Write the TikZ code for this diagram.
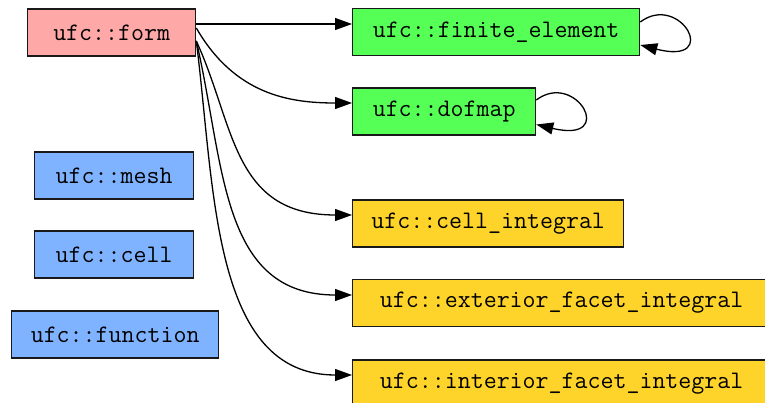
\documentclass[tikz,border=0pt]{standalone}
\usetikzlibrary{arrows.meta}
\definecolor{formpink}{HTML}{FFA8A8}
\definecolor{elemgreen}{HTML}{55FF55}
\definecolor{intyellow}{HTML}{FFD42A}
\definecolor{meshblue}{HTML}{80B3FF}
\begin{document}
\begin{tikzpicture}[x=1pt,y=-1pt,
  box/.style={draw=black!90, line width=1.3pt, minimum height=47pt, inner sep=0pt, anchor=west,
    font=\ttfamily\fontsize{25.2}{28}\selectfont},
  edge/.style={line width=1.3pt, -{Triangle[length=17pt,width=12pt]}}]
\useasboundingbox (0,0) rectangle (765,403);
\node[box, fill=formpink, minimum width=168pt] (form) at (27,32.5) {ufc::form};
\node[box, fill=elemgreen, minimum width=287pt] (fe) at (352,32) {ufc::finite\_element};
\node[box, fill=elemgreen, minimum width=183pt] (dof) at (352,111.5) {ufc::dofmap};
\node[box, fill=intyellow, minimum width=271pt] (ci) at (352,223.5) {ufc::cell\_integral};
\node[box, fill=intyellow, minimum width=418pt] (efi) at (352,303) {ufc::exterior\_facet\_integral};
\node[box, fill=intyellow, minimum width=418pt] (ifi) at (352,383.5) {ufc::interior\_facet\_integral};
\node[box, fill=meshblue, minimum width=159pt] (mesh) at (34,175.5) {ufc::mesh};
\node[box, fill=meshblue, minimum width=159pt] (cell) at (34,254.5) {ufc::cell};
\node[box, fill=meshblue, minimum width=207pt] (func) at (11,334.5) {ufc::function};

\draw[edge] ([yshift=8.5pt]form.east) -- ([yshift=8pt]fe.west);
\draw[edge] ([yshift=4.5pt]form.east) .. controls (235,95) and (290,103) .. ([yshift=8.5pt]dof.west);
\draw[edge] ([yshift=-8.5pt]form.east) .. controls (235,125) and (232,215) .. ([yshift=8.5pt]ci.west);
\draw[edge] ([yshift=-8.5pt]form.east) .. controls (225,165) and (220,295) .. ([yshift=8pt]efi.west);
\draw[edge] ([yshift=-8.5pt]form.east) .. controls (215,190) and (212,375) .. ([yshift=8.5pt]ifi.west);

\draw[edge] ([yshift=10pt]fe.east) .. controls (680,-8) and (722,66) .. ([yshift=-13pt]fe.east);
\draw[edge] ([yshift=11.5pt]dof.east) .. controls (576,70) and (618,144) .. ([yshift=-13pt]dof.east);
\end{tikzpicture}
\end{document}
